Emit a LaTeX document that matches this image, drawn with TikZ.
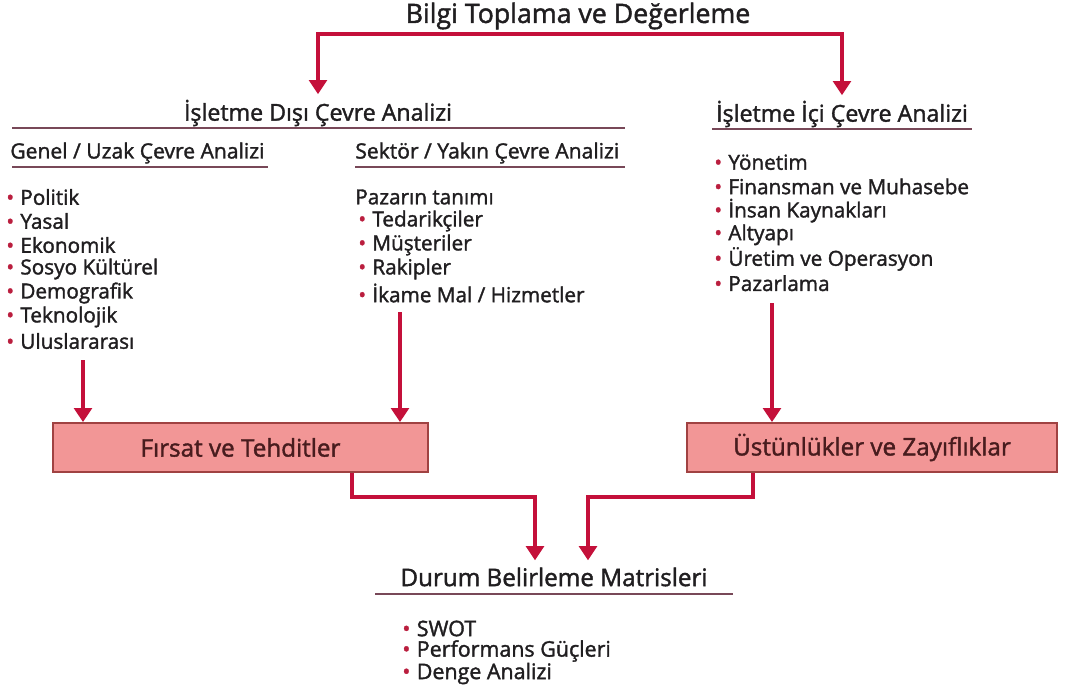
\documentclass[tikz,border=0pt]{standalone}
\usepackage{fontspec}
\setmainfont{Open Sans}[BoldFont={Open Sans},BoldFeatures={FakeBold=1.6}]
\usetikzlibrary{arrows.meta}

\definecolor{okrenk}{RGB}{196,16,58}
\definecolor{altcizgi}{RGB}{120,72,88}
\definecolor{yazi}{RGB}{32,30,32}
\definecolor{nokta}{RGB}{186,30,62}
\definecolor{kutudolgu}{RGB}{242,150,150}
\definecolor{kutucerceve}{RGB}{160,66,66}
\definecolor{kutuyazi}{RGB}{72,28,30}

\newcommand\nokta{\textcolor{nokta}{\textbullet}\hspace{0.3em}}

\begin{document}
\begin{tikzpicture}[x=0.02cm,y=-0.02cm,
	ok/.style={okrenk,line width=2.2pt,-{Triangle[width=10pt,length=8pt]}},
	cizgi/.style={altcizgi,line width=1.4pt},
	baslik/.style={inner sep=0pt,text=yazi,font=\fontsize{13.2}{15}\bfseries},
	altbaslik/.style={baslik,anchor=west,font=\fontsize{12}{14}\bfseries},
	madde/.style={inner sep=0pt,anchor=west,text=yazi,font=\fontsize{11.8}{14}\bfseries},
	kutu/.style={draw=kutucerceve,fill=kutudolgu,line width=1pt,minimum height=0.98cm,
		text=kutuyazi,font=\fontsize{13.8}{16}\bfseries}]
	\useasboundingbox (0,0) rectangle (1066,691);

	%başlıklar
	\node[baslik,font=\fontsize{15.2}{18}\bfseries] (bilgi) at (578,16) {Bilgi Toplama ve Değerleme};
	\node[baslik] (dis) at (318,113) {İşletme Dışı Çevre Analizi};
	\node[baslik] (ic) at (842,114) {İşletme İçi Çevre Analizi};
	\node[altbaslik] (genel) at (10,153) {Genel / Uzak Çevre Analizi};
	\node[altbaslik] (sektor) at (355,153) {Sektör / Yakın Çevre Analizi};
	\draw[cizgi] (12,128) -- (625,128);
	\draw[cizgi] (712,129) -- (972,129);
	\draw[cizgi] (12,167) -- (268,167);
	\draw[cizgi] (355,167) -- (625,167);

	%maddeler
	\foreach \m [count=\i] in {Politik,Yasal,Ekonomik,Sosyo Kültürel,Demografik,Teknolojik,Uluslararası}
		\node[madde] (g\i) at (6,{173+24*\i}) {\nokta\m};
	\node[madde] (pazar) at (355,197) {Pazarın tanımı};
	\foreach \m [count=\i] in {Tedarikçiler,Müşteriler,Rakipler,{İkame Mal / Hizmetler}}
		\node[madde] (s\i) at (358,{197+24*\i}) {\nokta\m};
	\foreach \m [count=\i] in {Yönetim,Finansman ve Muhasebe,İnsan Kaynakları,Altyapı,Üretim ve Operasyon,Pazarlama}
		\node[madde] (i\i) at (714,{138+24.2*\i}) {\nokta\m};

	%kutular
	\node[kutu,minimum width=7.5cm] (firsat) at (240.5,447.5) {Fırsat ve Tehditler};
	\node[kutu,minimum width=7.4cm] (ustun) at (872,447.5) {Üstünlükler ve Zayıflıklar};

	%durum
	\node[baslik,font=\fontsize{13.8}{16}\bfseries] (durum) at (554,577) {Durum Belirleme Matrisleri};
	\draw[cizgi] (375,594) -- (733,594);
	\foreach \m [count=\i] in {SWOT,Performans Güçleri,Denge Analizi}
		\node[madde,font=\fontsize{12.2}{14}\bfseries] (d\i) at (402,{606+22.5*\i}) {\nokta\m};

	%oklar
	\coordinate (ust) at (585,34);
	\draw[ok,shorten >=3pt] (ust) -| (dis.north);
	\draw[ok,shorten >=3pt] (ust) -| (ic.north);
	\coordinate (g7alt) at (83,360);
	\coordinate (s4alt) at (400,312);
	\coordinate (i6alt) at (772,303);
	\draw[ok] (g7alt) -- (g7alt |- firsat.north);
	\draw[ok] (s4alt) -- (s4alt |- firsat.north);
	\draw[ok] (i6alt) -- (i6alt |- ustun.north);
	\coordinate (ara) at (0,497);
	\coordinate (f1) at (352,0);
	\coordinate (u1) at (753,0);
	\coordinate (d1) at (535,0);
	\coordinate (d2) at (588,0);
	\draw[ok,shorten >=4pt] (f1 |- firsat.south) -- (f1 |- ara) -| (d1 |- durum.north);
	\draw[ok,shorten >=4pt] (u1 |- ustun.south) -- (u1 |- ara) -| (d2 |- durum.north);
\end{tikzpicture}
\end{document}
